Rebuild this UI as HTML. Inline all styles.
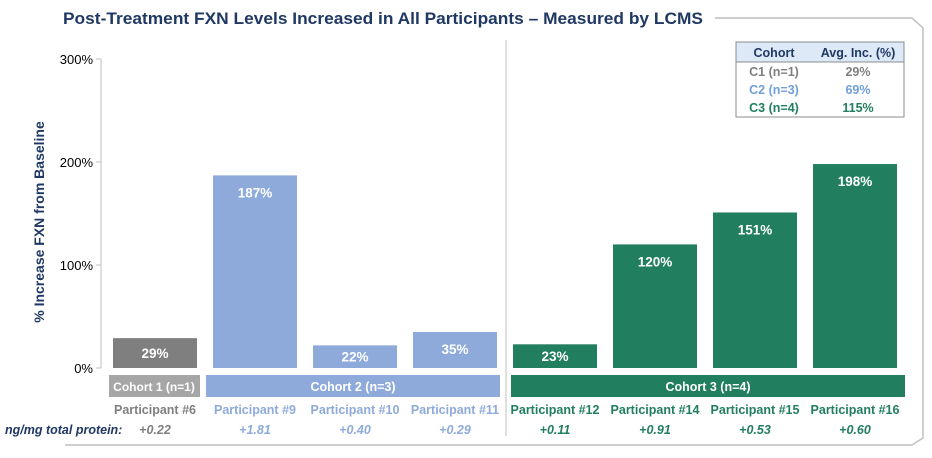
<!DOCTYPE html>
<html><head><meta charset="utf-8"><style>
body{margin:0;background:#fff;font-family:"Liberation Sans",sans-serif}
svg text{font-family:"Liberation Sans",sans-serif}
</style></head><body>
<svg width="932" height="453" viewBox="0 0 932 453">
<text x="383" y="24" text-anchor="middle" font-size="17" font-weight="bold" fill="#1f3864" textLength="640" lengthAdjust="spacingAndGlyphs">Post-Treatment FXN Levels Increased in All Participants – Measured by LCMS</text>
<polyline points="715,18 912,18 923,28 923,438 912,445 65,445" fill="none" stroke="#bfbfbf" stroke-width="1.5"/>
<line x1="101" y1="59" x2="101" y2="368" stroke="#bfbfbf"/>
<line x1="506" y1="40" x2="506" y2="436" stroke="#bfbfbf"/>
<text transform="translate(44,222) rotate(-90)" text-anchor="middle" font-size="14" font-weight="bold" fill="#1f3864">% Increase FXN from Baseline</text>
<g id="ticks"></g>
<g id="bars"></g>
<g id="labels"></g>
<g>
<rect x="109" y="375" width="91" height="22" fill="#a6a6a6"/><text x="154" y="391" text-anchor="middle" fill="#fff" font-size="12" font-weight="bold">Cohort 1 (n=1)</text>
<rect x="206" y="375" width="294" height="22" fill="#8eaadb"/><text x="353" y="391" text-anchor="middle" fill="#fff" font-size="12.5" font-weight="bold">Cohort 2 (n=3)</text>
<rect x="511" y="375" width="394" height="22" fill="#217e5f"/><text x="708" y="391" text-anchor="middle" fill="#fff" font-size="12.5" font-weight="bold">Cohort 3 (n=4)</text>
</g>
<text x="5" y="434" font-size="12.5" font-weight="bold" font-style="italic" fill="#1f3864">ng/mg total protein:</text>
<g>
<rect x="736" y="42" width="168" height="20" fill="#dde9f6"/>
<rect x="736" y="42" width="168" height="75" fill="none" stroke="#8c8c8c"/>
<line x1="736" y1="62" x2="904" y2="62" stroke="#8c8c8c"/>
<text x="774" y="57" text-anchor="middle" font-size="12.5" font-weight="bold" fill="#1f3864">Cohort</text>
<text x="858" y="57" text-anchor="middle" font-size="12.5" font-weight="bold" fill="#1f3864">Avg. Inc. (%)</text>
<text x="774" y="76" text-anchor="middle" font-size="12.5" font-weight="bold" fill="#7f7f7f">C1 (n=1)</text>
<text x="858" y="76" text-anchor="middle" font-size="12.5" font-weight="bold" fill="#7f7f7f">29%</text>
<text x="774" y="94" text-anchor="middle" font-size="12.5" font-weight="bold" fill="#6fa0d8">C2 (n=3)</text>
<text x="858" y="94" text-anchor="middle" font-size="12.5" font-weight="bold" fill="#6fa0d8">69%</text>
<text x="774" y="112" text-anchor="middle" font-size="12.5" font-weight="bold" fill="#217e5f">C3 (n=4)</text>
<text x="858" y="112" text-anchor="middle" font-size="12.5" font-weight="bold" fill="#217e5f">115%</text>
</g>
</svg>
<script>
const participants=["Participant #6","Participant #9","Participant #10","Participant #11","Participant #12","Participant #14","Participant #15","Participant #16"];
const values=[29,187,22,35,23,120,151,198];
const cohorts=[1,2,2,2,3,3,3,3];
const protein=["+0.22","+1.81","+0.40","+0.29","+0.11","+0.91","+0.53","+0.60"];
const yTicks=[0,100,200,300];
const NS="http://www.w3.org/2000/svg";
const y=v=>368-v*1.03;
const x=i=>155+i*100;
const barCol={1:"#7f7f7f",2:"#8eaadb",3:"#217e5f"};
const txtCol={1:"#7f7f7f",2:"#8eaadb",3:"#217e5f"};
function mk(t,a,p){const e=document.createElementNS(NS,t);for(const k in a)e.setAttribute(k,a[k]);p.appendChild(e);return e;}
const tg=document.getElementById('ticks');
yTicks.forEach(v=>{
 const t=mk('text',{x:93,y:y(v)+5,'text-anchor':'end','font-size':13,fill:'#000'},tg);
 t.textContent=v+'%';
 
 
 const l=mk('line',{x1:96,x2:101,y1:y(v),y2:y(v),stroke:'#bfbfbf'},tg);
 
 
});
const bg=document.getElementById('bars'),lg=document.getElementById('labels');
values.forEach((v,i)=>{
 const c=cohorts[i];
 const r=mk('rect',{x:x(i)-42,y:y(v),width:84,height:368-y(v),fill:barCol[c]},bg);
 
 
 const ly=Math.min(y(v)+22,(y(v)+368)/2+5);
 const vl=mk('text',{x:x(i),y:ly,'text-anchor':'middle','font-size':13.5,'font-weight':'bold',fill:'#fff'},bg);
 vl.textContent=v+'%';
 
 
 const pl=mk('text',{x:x(i),y:414,'text-anchor':'middle','font-size':12.5,'font-weight':'bold',fill:txtCol[c]},lg);
 pl.textContent=participants[i];
 
 
 const pr=mk('text',{x:x(i),y:434,'text-anchor':'middle','font-size':12.5,'font-weight':'bold','font-style':'italic',fill:txtCol[c]},lg);
 pr.textContent=protein[i];
 
 
});
</script>
</body></html>
